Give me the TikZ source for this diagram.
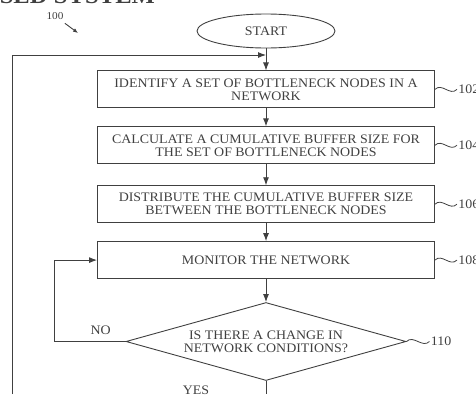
\documentclass[tikz,border=0pt]{standalone}
\usepackage{fontspec}
\setmainfont[FakeStretch=1.07]{Liberation Serif}
\usetikzlibrary{shapes.geometric, arrows.meta, positioning}

\begin{document}
\begin{tikzpicture}[
    x=1pt, y=-1pt,
    node distance=18pt,
    line width=0.9pt, color=black!75,
    font=\fontsize{13}{13}\selectfont,
    box/.style={rectangle, draw, align=center, minimum width=337pt, minimum height=37pt, inner sep=2pt},
    term/.style={ellipse, draw, minimum width=138pt, minimum height=34pt, inner sep=1pt},
    decision/.style={diamond, aspect=3.6, draw, align=center, minimum width=280pt, minimum height=78pt, inner sep=0pt},
    arrow/.style={-{Latex[length=8pt,width=6pt]}},
    squig/.style={line width=0.8pt},
    ref/.style={inner sep=1pt}
]
\useasboundingbox (0,0) rectangle (476,394);

% Title (cut off at the top)
\node[anchor=base west, font=\bfseries\fontsize{23}{23}\selectfont] (title) at (-4,3.5) {SED SYSTEM};

% Nodes
\node (fig) at (55,16) {\fontsize{10.5}{10.5}\selectfont 100};
\coordinate (figtip) at (78,33);
\node[term] (start) at (266,31) {START};
\node[box, below=22pt of start] (identify) {IDENTIFY A SET OF BOTTLENECK NODES IN A\\NETWORK};
\node[box, below=of identify] (calculate) {CALCULATE A CUMULATIVE BUFFER SIZE FOR\\THE SET OF BOTTLENECK NODES};
\node[box, below=21pt of calculate] (distribute) {DISTRIBUTE THE CUMULATIVE BUFFER SIZE\\BETWEEN THE BOTTLENECK NODES};
\node[box, below=of distribute] (monitor) {MONITOR THE NETWORK};
\node[decision, below=23pt of monitor] (check) {IS THERE A CHANGE IN\\NETWORK CONDITIONS?};

\node[ref, right=22pt of identify] (r102) {102};
\node[ref, right=22pt of calculate] (r104) {104};
\node[ref, right=22pt of distribute] (r106) {106};
\node[ref, right=22pt of monitor] (r108) {108};
\node[ref, right=23pt of check] (r110) {110};

\node[above left=3pt and 11pt of check.west] (no) {NO};
\node[below left=1pt and 53pt of check.south] (yes) {YES};

\coordinate (merge) at (266,55);
\coordinate (loopend) at (12,394);

% Arrows
\draw[-{Latex[length=5pt,width=4pt]}] (fig) -- (figtip);
\draw[arrow] (start) -- (identify);
\draw[arrow] (loopend) |- (merge);
\draw[arrow] (identify) -- (calculate);
\draw[arrow] (calculate) -- (distribute);
\draw[arrow] (distribute) -- (monitor);
\draw[arrow] (monitor) -- (check);
\draw[arrow] (check.west) -- ++(-71,0) |- (monitor.west);
\draw (check.south) -- (check.south |- loopend);

% Reference squiggles
\foreach \n/\r in {identify/r102, calculate/r104, distribute/r106, monitor/r108, check/r110}
    \draw[squig] (\n.east) .. controls +(7,-7) and +(-7,7) .. (\r.west);

\end{tikzpicture}
\end{document}
